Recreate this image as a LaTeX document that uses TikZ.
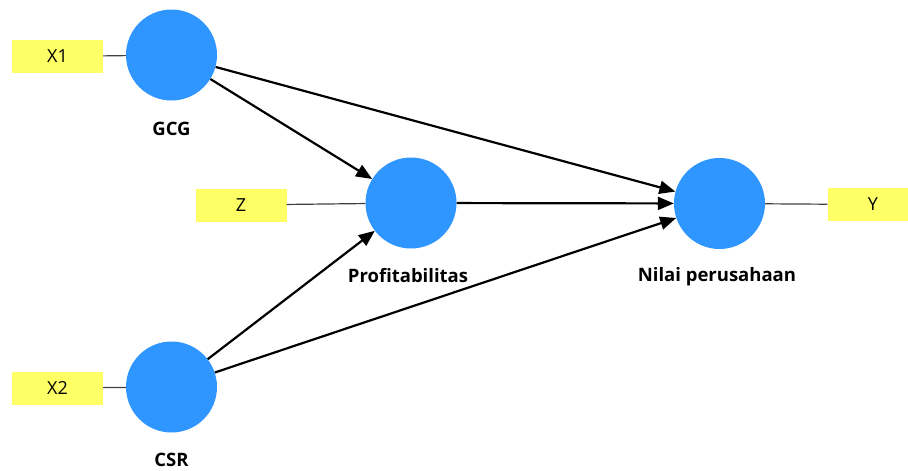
\documentclass[tikz,border=0pt]{standalone}
\usepackage{fontspec}
\setmainfont{Open Sans}
\usetikzlibrary{arrows.meta}
\definecolor{latentblue}{RGB}{48,150,255}
\definecolor{itemyellow}{RGB}{255,255,102}
\tikzset{
  latent/.style={circle, fill=latentblue, minimum size=91pt, inner sep=0pt},
  indicator/.style={rectangle, fill=itemyellow, minimum width=91pt, minimum height=33pt, inner sep=0pt, font=\fontsize{18}{20}\selectfont},
  caption/.style={font=\bfseries\fontsize{18.5}{20}\selectfont},
  path/.style={line width=2.2pt, -{Triangle[length=16pt, width=13pt]}},
  loading/.style={line width=1.2pt, draw=black!75}
}
\begin{document}
\begin{tikzpicture}[x=1pt, y=-1pt]
  \useasboundingbox (0,0) rectangle (908,471);
  \begin{scope}
    \clip (0,0) rectangle (908,471);
    % latent constructs
    \node[latent] (gcg) at (171.5,55) {};
    \node[latent] (prof) at (411,203) {};
    \node[latent] (nilai) at (719.5,203.5) {};
    \node[latent] (csr) at (171.5,387) {};
    % indicators
    \node[indicator] (x1) at (57.5,56.5) {X1};
    \node[indicator] (z) at (241,205) {Z};
    \node[indicator] (y) at (873,204.5) {Y};
    \node[indicator] (x2) at (57.5,388) {X2};
    % construct names
    \node[caption] at (171.5,129) {GCG};
    \node[caption] at (408,276) {Profitabilitas};
    \node[caption] at (717,277) {Nilai perusahaan};
    \node[caption] at (171.5,460) {CSR};
    % measurement links
    \draw[loading] (x1) -- (gcg);
    \draw[loading] (z) -- (prof);
    \draw[loading] (nilai) -- (y);
    \draw[loading] (x2) -- (csr);
    % structural paths
    \draw[path] (gcg) -- (prof);
    \draw[path] (gcg) -- (nilai);
    \draw[path] (prof) -- (nilai);
    \draw[path] (csr) -- (prof);
    \draw[path] (csr) -- (nilai);
  \end{scope}
\end{tikzpicture}
\end{document}
